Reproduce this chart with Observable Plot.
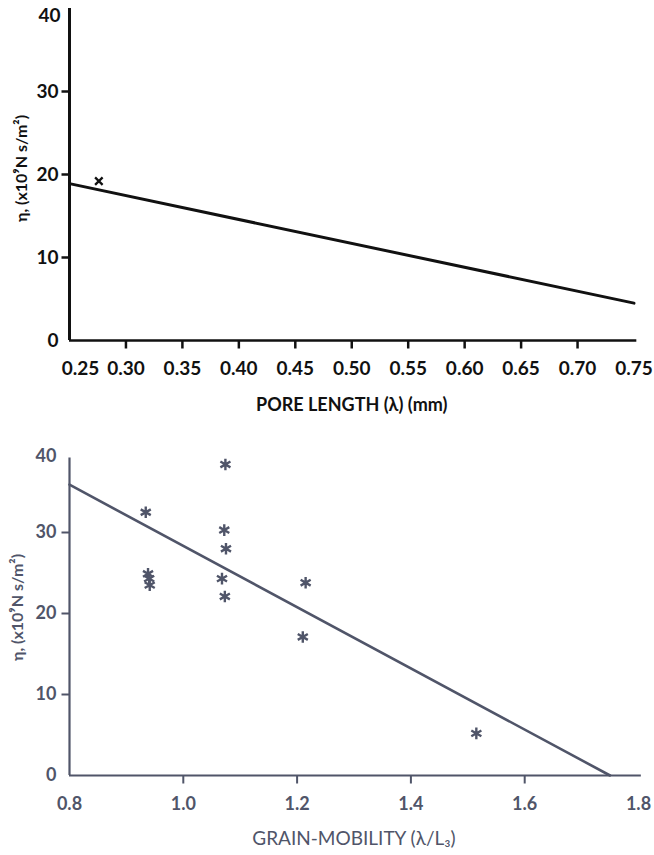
<!DOCTYPE html>
<html>
<head>
<meta charset="utf-8">
<script src="https://cdn.jsdelivr.net/npm/d3@7"></script>
<script src="https://cdn.jsdelivr.net/npm/@observablehq/plot@0.6"></script>
<style>
  html, body { margin: 0; padding: 0; background: #fff; }
  #chart svg { display: block; }
</style>
</head>
<body>
<div id="chart"></div>
<script>
// Upper panel: viscosity against pore length
const poreTicks = [0.25, 0.30, 0.35, 0.40, 0.45, 0.50, 0.55, 0.60, 0.65, 0.70, 0.75];
const poreFitX = [0.25, 0.75];
const poreFitY = [18.9, 4.5];
const poreObsX = [0.276];
const poreObsY = [19.2];

// Lower panel: viscosity against grain mobility
const mobilityTicks = [0.8, 1.0, 1.2, 1.4, 1.6, 1.8];
const mobilityX = [0.934, 0.938, 0.940, 0.941, 1.068, 1.072, 1.073, 1.074, 1.075, 1.210, 1.215, 1.515];
const mobilityY = [32.5, 24.9, 24.3, 23.5, 24.3, 30.3, 22.1, 38.4, 28.0, 17.1, 23.8, 5.2];
const mobilityFitX = [0.8, 1.75];
const mobilityFitY = [35.9, 0];

const viscTicks = [0, 10, 20, 30, 40];
const viscInner = [10, 20, 30];
const yTitle = "η, (x10⁹N s/m²)";

const font = 'Lato, Roboto, "DejaVu Sans", sans-serif';
const fmt2 = d3.format(".2f");
const fmt1 = d3.format(".1f");
const TICK = 8; // outward tick length in pixels

// Build a panel's frame: axis lines plus short outward ticks drawn as links,
// with the tick length converted from pixels into data units of each scale.
function frameMarks({xDomain, xInner, yTop, plotW, plotH, sw, axisSw, stroke}) {
  const [x0, x1] = xDomain;
  const dxUnit = TICK * (x1 - x0) / plotW;
  const dyUnit = TICK * 40 / plotH;
  return [
    Plot.link(viscInner, {x1: () => x0, x2: () => x0 - dxUnit, y1: d => d, y2: d => d, stroke, strokeWidth: sw}),
    Plot.link(xInner, {x1: d => d, x2: d => d, y1: () => 0, y2: () => -dyUnit, stroke, strokeWidth: sw}),
    Plot.ruleX([x0], {y1: 0, y2: yTop, strokeWidth: axisSw, stroke}),
    Plot.ruleY([0], {x1: x0, x2: x1 + (x1 - x0) * 0.005, strokeWidth: sw, stroke})
  ];
}

const poreW = 654 - 69 - 20.5, poreH = 425 - 8 - 85;
const porePlot = Plot.plot({
  width: 654,
  height: 425,
  marginLeft: 69,
  marginRight: 20.5,
  marginTop: 8,
  marginBottom: 85,
  style: {fontFamily: font, fontSize: "19px", fontWeight: "bold", color: "#111", background: "#fff", overflow: "visible"},
  x: {domain: [0.25, 0.75], label: null},
  y: {domain: [0, 40], label: null},
  marks: [
    Plot.axisY([0, 10, 20, 30], {tickSize: 0, tickPadding: 11}),
    Plot.axisY([40], {tickSize: 0, tickPadding: 9, dy: 7}),
    Plot.axisX(poreTicks.slice(1), {tickSize: 0, tickPadding: 21, tickFormat: fmt2}),
    Plot.axisX(poreTicks.slice(0, 1), {tickSize: 0, tickPadding: 21, dx: 11, tickFormat: fmt2}),
    ...frameMarks({xDomain: [0.25, 0.75], xInner: poreTicks.slice(1, -1), yTop: 40, plotW: poreW, plotH: poreH, sw: 2.5, axisSw: 3, stroke: "#111"}),
    Plot.line(poreFitX.map((x, i) => ({x, y: poreFitY[i]})), {x: "x", y: "y", stroke: "#111", strokeWidth: 3}),
    Plot.dot(poreObsX.map((x, i) => ({x, y: poreObsY[i]})), {x: "x", y: "y", symbol: "times", r: 3.5, stroke: "#111", strokeWidth: 2.3}),
    Plot.text([yTitle], {frameAnchor: "left", textAnchor: "middle", dx: -48, dy: -6, rotate: -90, fontSize: 16, fill: "#111"}),
    Plot.text(["PORE LENGTH (λ) (mm)"], {frameAnchor: "bottom", dy: 70, fontSize: 18, fill: "#111"})
  ]
});

const ink = "#505569";
const mobW = 654 - 69 - 16, mobH = 430 - 26 - 80;
const mobilityPlot = Plot.plot({
  width: 654,
  height: 430,
  marginLeft: 69,
  marginRight: 16,
  marginTop: 26,
  marginBottom: 80,
  style: {fontFamily: font, fontSize: "18px", fontWeight: "bold", color: ink, background: "#fff", overflow: "visible"},
  x: {domain: [0.8, 1.8], label: null},
  y: {domain: [0, 40], label: null},
  marks: [
    Plot.axisY([0, 10, 20, 30], {tickSize: 0, tickPadding: 13}),
    Plot.axisY([40], {tickSize: 0, tickPadding: 13, dy: 5}),
    Plot.axisX(mobilityTicks, {tickSize: 0, tickPadding: 22, tickFormat: fmt1}),
    ...frameMarks({xDomain: [0.8, 1.8], xInner: mobilityTicks.slice(1, -1), yTop: 39.2, plotW: mobW, plotH: mobH, sw: 2, axisSw: 2.2, stroke: ink}),
    Plot.line(mobilityFitX.map((x, i) => ({x, y: mobilityFitY[i]})), {x: "x", y: "y", stroke: ink, strokeWidth: 2.6}),
    Plot.dot(mobilityX.map((x, i) => ({x, y: mobilityY[i]})), {x: "x", y: "y", symbol: "asterisk", r: 5.5, stroke: ink, strokeWidth: 2.4}),
    Plot.text([yTitle], {frameAnchor: "left", textAnchor: "middle", dx: -52, dy: -6, rotate: -90, fontSize: 16, fill: ink}),
    Plot.text(["GRAIN-MOBILITY (λ/L₃)"], {frameAnchor: "bottom", dy: 69, fontSize: 19, fontWeight: "normal", fill: ink})
  ]
});

document.getElementById("chart").append(porePlot, mobilityPlot);
</script>
</body>
</html>
